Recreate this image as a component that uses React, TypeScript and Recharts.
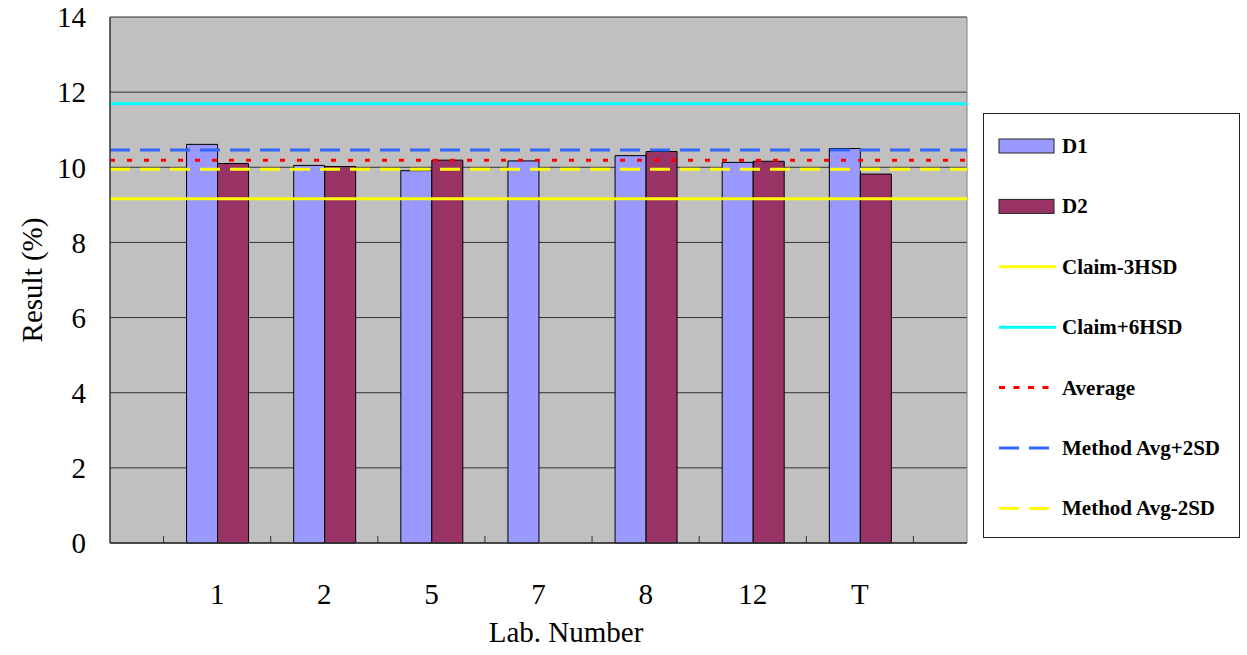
import React from "react";
import { ComposedChart, Bar, XAxis, YAxis, CartesianGrid, ReferenceLine } from "recharts";

const labs = ["1", "2", "5", "7", "8", "12", "T"];
const d1 = [10.61, 10.05, 9.91, 10.17, 10.31, 10.13, 10.5];
const d2 = [10.1, 10.02, 10.19, null, 10.42, 10.16, 9.82];
const yTicks = [0, 2, 4, 6, 8, 10, 12, 14];

const refNames = ["Claim-3HSD", "Claim+6HSD", "Average", "Method Avg+2SD", "Method Avg-2SD"];
const refValues = [9.16, 11.69, 10.19, 10.46, 9.95];
const refColors = ["#FFFF00", "#00FFFF", "#FF0000", "#3366FF", "#FFFF00"];
const refDash = ["", "", "5 12", "20 10", "20 10"];

const data = labs.map((lab, i) => ({ lab, D1: d1[i], D2: d2[i] }));

const FONT = "Liberation Serif, Times New Roman, Times, DejaVu Serif, serif";
const W = 1247;
const H = 655;
const PLOT_LEFT = 110;
const PLOT_RIGHT = 967;
const PLOT_TOP = 17;
const PLOT_BOTTOM = 543;
const PLOT_W = PLOT_RIGHT - PLOT_LEFT;
const BAND = PLOT_W / (labs.length + 1);

function LabTick(props: any) {
  const { x, y, payload, index, visibleTicksCount } = props;
  const last = index === visibleTicksCount - 1;
  return (
    <g>
      <line x1={x - BAND / 2} x2={x - BAND / 2} y1={y - 7} y2={y} stroke="#333" />
      {last && <line x1={x + BAND / 2} x2={x + BAND / 2} y1={y - 7} y2={y} stroke="#333" />}
      <text x={x} y={y + 61} textAnchor="middle" fontSize={29} style={{ fontFamily: FONT }} fill="#000">
        {payload.value}
      </text>
    </g>
  );
}

const legendItems = [
  { name: "D1", kind: "bar", color: "#9999FF", dash: "" },
  { name: "D2", kind: "bar", color: "#993366", dash: "" },
  ...refNames.map((n, i) => ({ name: n, kind: "line", color: refColors[i], dash: refDash[i] })),
];

export default function App() {
  return (
    <div style={{ position: "fixed", left: 0, top: 0, width: W, height: H, background: "#fff", fontFamily: FONT }}>
      <ComposedChart
        width={W}
        height={H}
        data={data}
        margin={{ top: PLOT_TOP, right: W - PLOT_RIGHT, bottom: 0, left: 0 }}
        barGap={0}
      >
        <CartesianGrid fill="#C0C0C0" stroke="#333" vertical={false} />
        <CartesianGrid stroke="#808080" horizontal={false} verticalPoints={[PLOT_RIGHT]} />
        <XAxis
          dataKey="lab"
          height={H - PLOT_BOTTOM}
          padding={{ left: BAND / 2, right: BAND / 2 }}
          interval={0}
          tickLine={false}
          tickSize={0}
          tickMargin={0}
          axisLine={{ stroke: "#333", strokeWidth: 1.5 }}
          tick={<LabTick />}
          label={{
            content: () => (
              <text x={566} y={642} textAnchor="middle" fontSize={29} style={{ fontFamily: FONT }} fill="#000">
                Lab. Number
              </text>
            ),
          }}
        />
        <YAxis
          width={PLOT_LEFT}
          domain={[0, 14]}
          ticks={yTicks}
          interval={0}
          tickLine={false}
          tickSize={6}
          tickMargin={18}
          axisLine={{ stroke: "#333", strokeWidth: 1.5 }}
          tick={{ fontSize: 29, fill: "#000", style: { fontFamily: FONT } }}
          label={{
            content: () => (
              <text
                x={32}
                y={280}
                transform="rotate(-90, 32, 280)"
                textAnchor="middle"
                dominantBaseline="central"
                fontSize={29}
                style={{ fontFamily: FONT }}
                fill="#000"
              >
                Result (%)
              </text>
            ),
          }}
        />
        <Bar dataKey="D1" fill="#9999FF" stroke="#000" strokeWidth={1} barSize={31} isAnimationActive={false} />
        <Bar dataKey="D2" fill="#993366" stroke="#000" strokeWidth={1} barSize={31} isAnimationActive={false} />
        {refValues.map((v, i) => (
          <ReferenceLine
            key={refNames[i]}
            y={v}
            stroke={refColors[i]}
            strokeWidth={3}
            strokeDasharray={refDash[i] || undefined}
          />
        ))}
      </ComposedChart>
      <div
        style={{
          position: "absolute",
          left: 983,
          top: 113,
          width: 257,
          height: 425,
          border: "1px solid #222",
          background: "#fff",
          boxSizing: "border-box",
        }}
      >
        <svg width={257} height={425} style={{ display: "block" }}>
          {legendItems.map((it, i) => {
            const cy = 32 + i * 60.4;
            return (
              <g key={it.name}>
                {it.kind === "bar" ? (
                  <rect x={15} y={cy - 7} width={55} height={14} fill={it.color} stroke="#222" strokeWidth={1} />
                ) : (
                  <line
                    x1={15}
                    x2={72}
                    y1={cy}
                    y2={cy}
                    stroke={it.color}
                    strokeWidth={3}
                    strokeDasharray={it.name === "Average" ? "6 8.5" : it.dash || undefined}
                  />
                )}
                <text
                  x={78}
                  y={cy}
                  dominantBaseline="central"
                  fontSize={21}
                  fontWeight="bold"
                  style={{ fontFamily: FONT }}
                  fill="#000"
                >
                  {it.name}
                </text>
              </g>
            );
          })}
        </svg>
      </div>
    </div>
  );
}
